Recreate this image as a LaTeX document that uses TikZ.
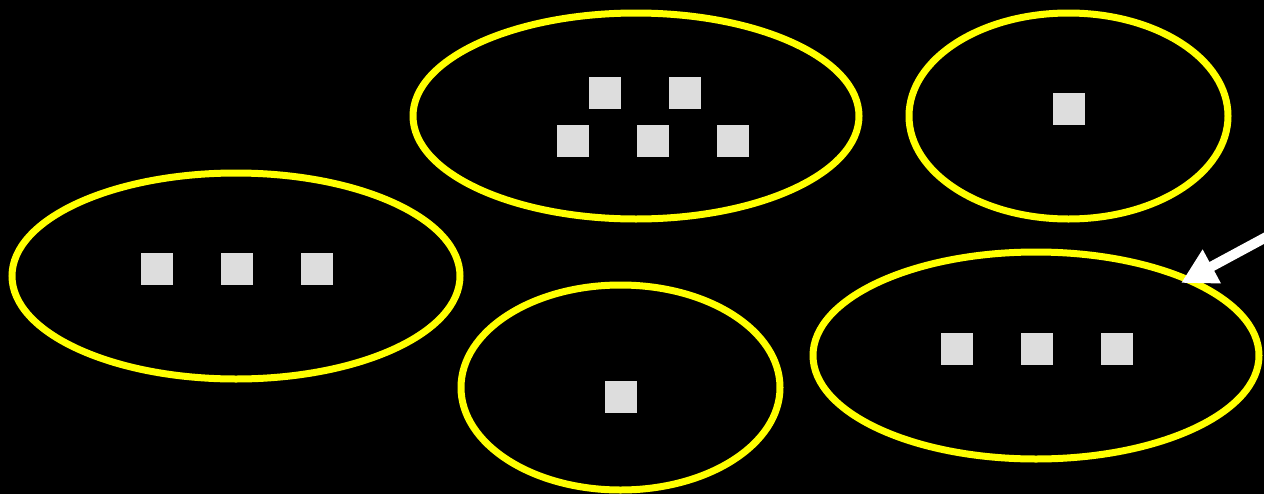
\documentclass[tikz,border=0pt]{standalone}
\usepackage{xcolor}
\usepackage{tikz}
\usetikzlibrary{shapes.geometric,arrows.meta}

\definecolor{ringyellow}{HTML}{FFFF00}
\definecolor{boxgray}{HTML}{DDDDDD}

\begin{document}
\begin{tikzpicture}[
  x=0.02cm, y=-0.02cm,
  ring/.style 2 args={ellipse, draw=ringyellow, line width=0.14cm, inner sep=0pt, minimum width=#1*0.02cm, minimum height=#2*0.02cm},
  item/.style={fill=boxgray, inner sep=0pt, minimum size=0.64cm},
  arrow/.style={-{Triangle[length=0.7cm, width=0.72cm]}, draw=white, line width=0.2cm}
]
  \fill[black] (0,0) rectangle (1264,494);
  \useasboundingbox (0,0) rectangle (1264,494);

  \node[ring={446}{206}] (topmid)   at (636,116) {};
  \node[ring={319}{206}] (topright) at (1068.5,116) {};
  \node[ring={448}{206}] (left)     at (236,276) {};
  \node[ring={319}{205}] (botmid)   at (620.5,387.5) {};
  \node[ring={446}{207}] (botright) at (1036,355.5) {};

  \node[item] (tm1) at (605,93) {};
  \node[item] (tm2) at (685,93) {};
  \node[item] (tm3) at (573,141) {};
  \node[item] (tm4) at (653,141) {};
  \node[item] (tm5) at (733,141) {};

  \node[item] (tr1) at (1069,109) {};

  \node[item] (l1) at (157,269) {};
  \node[item] (l2) at (237,269) {};
  \node[item] (l3) at (317,269) {};

  \node[item] (bm1) at (621,397) {};

  \node[item] (br1) at (957,349) {};
  \node[item] (br2) at (1037,349) {};
  \node[item] (br3) at (1117,349) {};

  \coordinate (pointer) at (1270,235);
  \coordinate (pointertip) at (1181,283);
  \draw[arrow] (pointer) -- (pointertip);
\end{tikzpicture}
\end{document}
